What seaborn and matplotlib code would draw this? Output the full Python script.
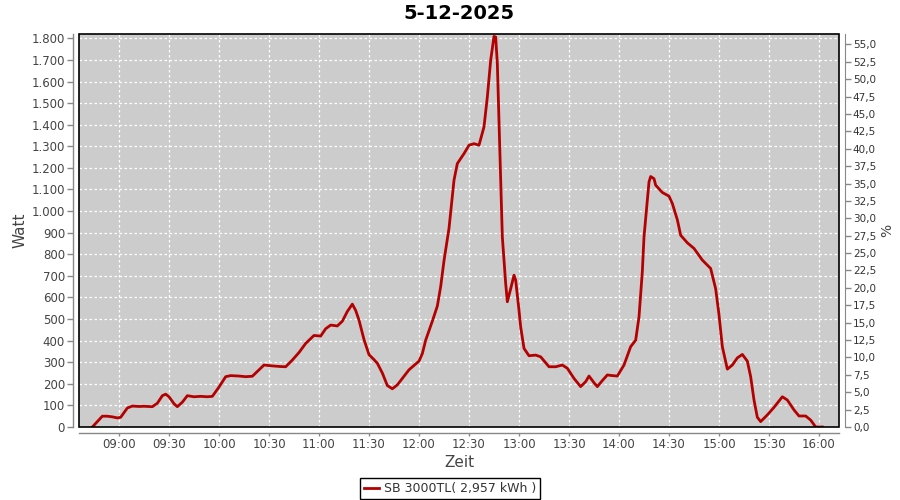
import matplotlib
matplotlib.use("Agg")
import matplotlib.pyplot as plt
import matplotlib.dates as mdates
from matplotlib.ticker import FuncFormatter, MultipleLocator
from matplotlib.patches import Rectangle
import seaborn as sns
import pandas as pd

title = "5-12-2025"
series_label = "SB 3000TL( 2,957 kWh )"
times = ["08:44", "08:47", "08:50", "08:53", "08:56", "08:59", "09:01", "09:05", "09:08", "09:12",
         "09:15", "09:20", "09:23", "09:26", "09:28", "09:30", "09:33", "09:35", "09:38", "09:41",
         "09:45", "09:49", "09:53", "09:56", "10:00", "10:04", "10:07", "10:12", "10:16", "10:20",
         "10:24", "10:27", "10:32", "10:37", "10:40", "10:44", "10:48", "10:52", "10:57", "11:01",
         "11:04", "11:07", "11:11", "11:14", "11:17", "11:20", "11:22", "11:24", "11:27", "11:30",
         "11:33", "11:35", "11:38", "11:41", "11:44", "11:47", "11:50", "11:54", "11:57", "12:00",
         "12:02", "12:04", "12:08", "12:11", "12:13", "12:15", "12:18", "12:21", "12:23", "12:27",
         "12:30", "12:33", "12:36", "12:39", "12:41", "12:43", "12:45", "12:46", "12:47", "12:48",
         "12:49", "12:50", "12:52", "12:53", "12:55", "12:57", "12:58", "13:00", "13:01", "13:03",
         "13:06", "13:10", "13:13", "13:18", "13:22", "13:26", "13:29", "13:33", "13:37", "13:40",
         "13:42", "13:45", "13:47", "13:50", "13:53", "13:56", "13:59", "14:03", "14:07", "14:10",
         "14:12", "14:14", "14:15", "14:17", "14:18", "14:19", "14:21", "14:22", "14:26", "14:30",
         "14:32", "14:35", "14:37", "14:41", "14:45", "14:50", "14:55", "14:58", "15:00", "15:02",
         "15:05", "15:08", "15:11", "15:14", "15:17", "15:19", "15:21", "15:23", "15:25", "15:29",
         "15:33", "15:38", "15:41", "15:45", "15:48", "15:52", "15:55", "15:58", "16:02"]
watts = [0, 25, 50, 50, 47, 42, 45, 88, 97, 95,
         96, 94, 110, 145, 152, 140, 108, 94, 115, 145,
         140, 142, 140, 142, 185, 233, 238, 236, 233, 235,
         265, 287, 283, 280, 279, 310, 345, 387, 424, 421,
         455, 472, 468, 490, 535, 569, 540, 495, 405, 335,
         312, 295, 250, 192, 177, 195, 225, 265, 285, 305,
         340, 402, 490, 560, 650, 770, 920, 1143, 1220, 1266,
         1305, 1312, 1305, 1390, 1528, 1698, 1809, 1806, 1683, 1420,
         1174, 880, 665, 580, 640, 703, 680, 540, 464, 364,
         330, 333, 325, 279, 279, 287, 272, 225, 187, 210,
         236, 205, 187, 215, 241, 238, 236, 287, 372, 402,
         510, 720, 880, 1050, 1135, 1160, 1150, 1120, 1086, 1069,
         1035, 960, 888, 853, 827, 773, 734, 640, 520, 372,
         268, 287, 320, 336, 305, 233, 125, 45, 25, 56,
         91, 140, 125, 79, 51, 51, 32, 0, 0]

df = pd.DataFrame({"Zeit": pd.to_datetime(["2025-12-05 " + t for t in times]), "Watt": watts})

plt.rcParams["font.family"] = ["DejaVu Sans"]
fig = plt.figure(figsize=(9, 5), dpi=100)
fig.patch.set_facecolor("white")
ax = fig.add_axes([79 / 900, 73 / 500, 760 / 900, 393 / 500])
ax.set_facecolor("#cccccc")

line_color = "#b40000"
sns.lineplot(data=df, x="Zeit", y="Watt", ax=ax, color=line_color, linewidth=2, zorder=5,
             label=series_label, legend=False)

ax.set_xlim(pd.Timestamp("2025-12-05 08:36"), pd.Timestamp("2025-12-05 16:12"))
ax.set_ylim(0, 1820)
ax.xaxis.set_major_locator(mdates.MinuteLocator(byminute=[0, 30]))
ax.xaxis.set_major_formatter(mdates.DateFormatter("%H:%M"))
ax.yaxis.set_major_locator(MultipleLocator(100))
ax.yaxis.set_major_formatter(FuncFormatter(lambda v, p: f"{int(round(v)):,}".replace(",", ".")))

ax.grid(True, color="white", linestyle=(0, (2, 2)), linewidth=0.9)
ax.set_axisbelow(True)

for s in ["top", "right"]:
    ax.spines[s].set_visible(False)
for s in ["left", "bottom"]:
    ax.spines[s].set_position(("outward", 4))
    ax.spines[s].set_color("#888888")
    ax.spines[s].set_linewidth(1)
ax.tick_params(axis="y", colors="#888888", labelcolor="#444444", labelsize=8.5, length=4, width=1, pad=2)
ax.tick_params(axis="x", colors="#888888", labelcolor="#444444", labelsize=8.5, length=2, width=1, pad=2)

ax.set_xlabel("Zeit", fontsize=11, color="#444444", labelpad=3)
ax.set_ylabel("Watt", fontsize=11, color="#444444", labelpad=3)
ax.set_title(title, fontsize=14, fontweight="bold", color="black", pad=11)

ax2 = ax.twinx()
ax2.set_ylim(0, 56.5)
ax2.yaxis.set_major_locator(MultipleLocator(2.5))
ax2.yaxis.set_major_formatter(FuncFormatter(lambda v, p: f"{v:.1f}".replace(".", ",")))
for s in ["top", "left", "bottom"]:
    ax2.spines[s].set_visible(False)
ax2.spines["right"].set_position(("outward", 4))
ax2.spines["right"].set_color("#888888")
ax2.tick_params(axis="y", colors="#888888", labelcolor="#333333", labelsize=7.5, length=4, width=1, pad=2)
ax2.set_ylabel("%", fontsize=10, color="#444444", labelpad=3)

ax.add_patch(Rectangle((0, 0), 1, 1, transform=ax.transAxes, fill=False,
                       edgecolor="black", linewidth=1.2, zorder=10, clip_on=False))

handles, labels = ax.get_legend_handles_labels()
leg = fig.legend(handles, labels, loc="lower center", bbox_to_anchor=(0.5, -0.01),
                 frameon=True, fancybox=False, edgecolor="black", framealpha=1,
                 fontsize=9, handlelength=1.2, handletextpad=0.4, borderpad=0.3,
                 labelcolor="#333333")
leg.get_frame().set_linewidth(1)

fig.savefig("out.png", dpi=100)
